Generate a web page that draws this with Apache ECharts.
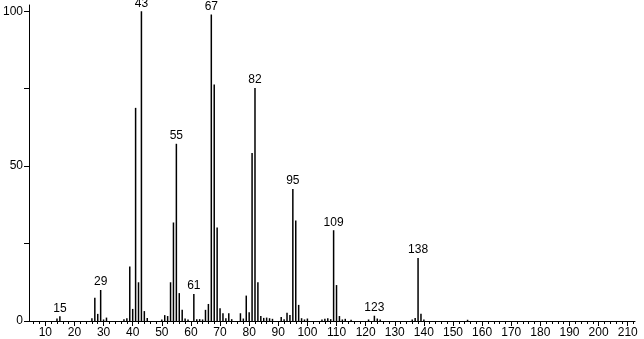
<!DOCTYPE html>
<html>
<head>
<meta charset="utf-8">
<script src="https://cdn.jsdelivr.net/npm/echarts@6/dist/echarts.min.js"></script>
<style>
html,body{margin:0;padding:0;background:#fff;}
#chart{width:644px;height:339px;}
</style>
</head>
<body>
<div id="chart"></div>
<script>
// m/z values and relative intensities
const mz = [14, 15, 26, 27, 28, 29, 30, 31, 37, 38, 39, 40, 41, 42, 43, 44, 45,
  50, 51, 52, 53, 54, 55, 56, 57, 58, 59, 61, 62, 63, 64, 65, 66, 67, 68, 69, 70,
  71, 72, 73, 74, 77, 78, 79, 80, 81, 82, 83, 84, 85, 86, 87, 88, 91, 92, 93, 94,
  95, 96, 97, 98, 99, 100, 105, 106, 107, 108, 109, 110, 111, 112, 113, 115, 121,
  123, 124, 125, 136, 137, 138, 139, 140, 155];
const intensity = [0.8, 1.5, 0.9, 7.5, 2.3, 10.0, 0.5, 1.1, 0.6, 0.9, 17.6, 3.9, 68.8, 12.5, 100, 3.2, 1.0,
  0.5, 1.9, 1.6, 12.5, 31.8, 57.2, 9.0, 3.6, 0.8, 0.5, 8.7, 0.6, 0.6, 0.5, 3.6, 5.5, 98.9, 76.3, 30.2, 4.1,
  2.5, 0.9, 2.5, 0.6, 2.5, 0.8, 8.2, 2.8, 54.2, 75.2, 12.5, 1.6, 1.0, 1.1, 0.9, 0.7, 1.3, 0.6, 2.7, 1.9,
  42.6, 32.4, 5.2, 0.9, 0.5, 0.8, 0.5, 0.7, 0.9, 0.6, 29.3, 11.6, 1.6, 0.5, 0.7, 0.4, 0.5,
  1.7, 0.8, 0.5, 0.5, 1.0, 20.3, 2.3, 0.5, 0.4];
const labeledPeaks = [15, 29, 43, 55, 61, 67, 82, 95, 109, 123, 138];
const xMajorTicks = [10, 20, 30, 40, 50, 60, 70, 80, 90, 100, 110, 120, 130, 140, 150, 160, 170, 180, 190, 200, 210];
const yTicks = [0, 25, 50, 75, 100];
const yLabels = [0, 50, 100];

const xMinorTicks = [];
for (let v = 6; v <= 212; v += 2) xMinorTicks.push(v);

const FONT = 'Liberation Sans';
const data = mz.map((m, i) => ({
  value: [m, intensity[i]],
  label: { show: labeledPeaks.indexOf(m) >= 0 }
}));

const chart = echarts.init(document.getElementById('chart'), null, { renderer: 'canvas' });
chart.setOption({
  animation: false,
  backgroundColor: '#fff',
  grid: { left: 26, right: 9, top: 5, bottom: 18, containLabel: false },
  xAxis: [{
    type: 'value', min: 4.4, max: 212.5, position: 'bottom',
    axisLine: { show: true, onZero: false, lineStyle: { color: '#000', width: 1 } },
    axisTick: { show: true, customValues: xMinorTicks, length: 3, lineStyle: { color: '#000' } },
    axisLabel: { show: false },
    splitLine: { show: false }
  }, {
    type: 'value', min: 4.4, max: 212.5, position: 'bottom',
    axisLine: { show: false, onZero: false },
    axisTick: { show: true, customValues: xMajorTicks, length: 5, lineStyle: { color: '#000' } },
    axisLabel: { show: true, customValues: xMajorTicks, margin: 6, color: '#000', fontSize: 12, fontFamily: FONT,
      showMinLabel: true, showMaxLabel: true },
    splitLine: { show: false }
  }],
  yAxis: {
    type: 'value', min: 0, max: 102,
    axisLine: { show: true, onZero: false, lineStyle: { color: '#000', width: 1 } },
    axisTick: { show: true, customValues: yTicks, length: 5, lineStyle: { color: '#000' } },
    axisLabel: { show: true, customValues: yLabels, margin: 6, color: '#000', fontSize: 12, fontFamily: FONT },
    splitLine: { show: false }
  },
  series: [{
    type: 'bar',
    xAxisIndex: 0,
    barWidth: 1.5,
    itemStyle: { color: '#000' },
    label: { position: 'top', distance: 2, color: '#000', fontSize: 12, fontFamily: FONT,
      formatter: p => String(p.value[0]) },
    data: data
  }]
});
</script>
</body>
</html>
